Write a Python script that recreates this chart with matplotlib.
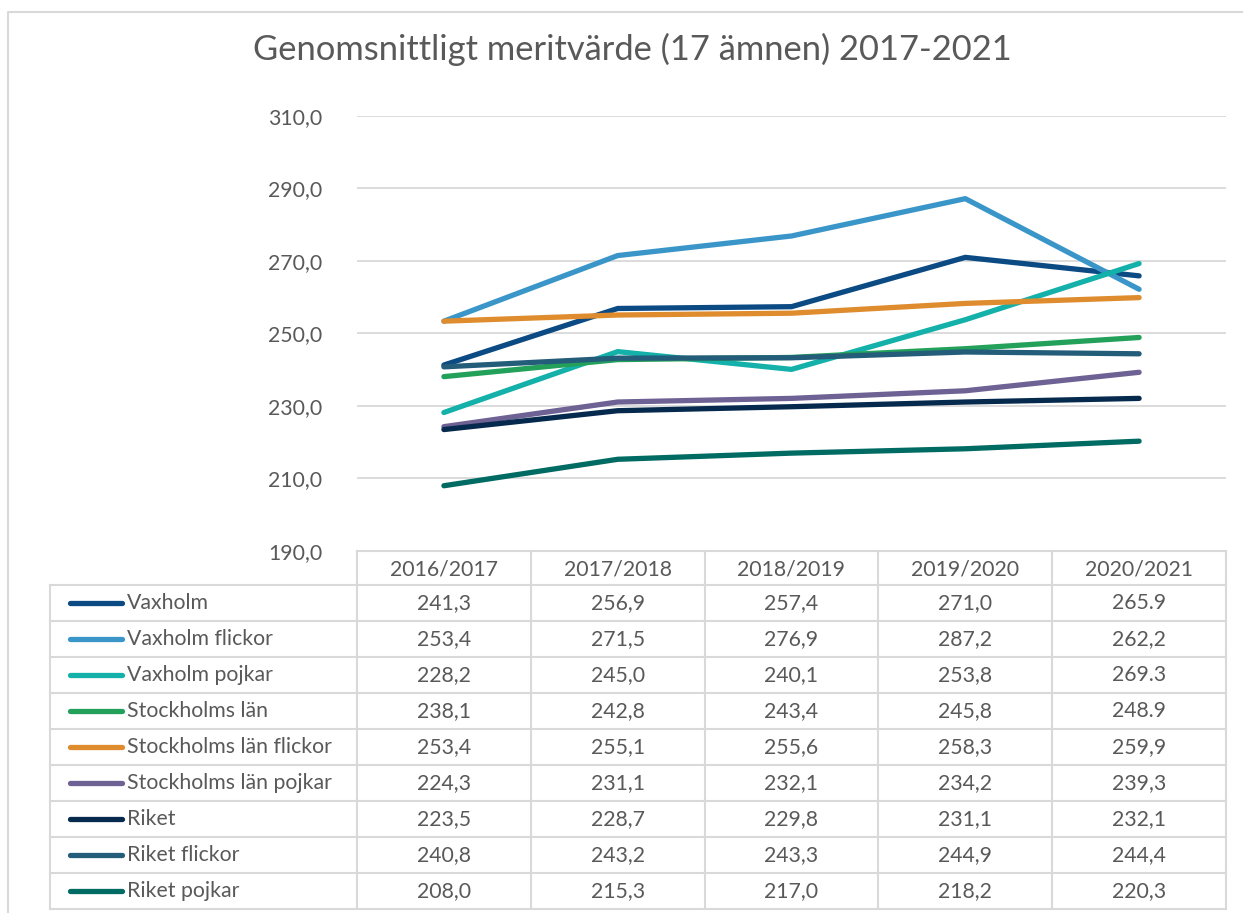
import matplotlib.pyplot as plt
import numpy as np

plt.rcParams["font.family"] = ["Lato", "DejaVu Sans"]

YEARS = ["2016/2017", "2017/2018", "2018/2019", "2019/2020", "2020/2021"]
SERIES = [
    "Vaxholm",
    "Vaxholm flickor",
    "Vaxholm pojkar",
    "Stockholms län",
    "Stockholms län flickor",
    "Stockholms län pojkar",
    "Riket",
    "Riket flickor",
    "Riket pojkar",
]
VAXHOLM = [241.3, 256.9, 257.4, 271.0, 265.9]
VAXHOLM_FLICKOR = [253.4, 271.5, 276.9, 287.2, 262.2]
VAXHOLM_POJKAR = [228.2, 245.0, 240.1, 253.8, 269.3]
STHLM = [238.1, 242.8, 243.4, 245.8, 248.9]
STHLM_FLICKOR = [253.4, 255.1, 255.6, 258.3, 259.9]
STHLM_POJKAR = [224.3, 231.1, 232.1, 234.2, 239.3]
RIKET = [223.5, 228.7, 229.8, 231.1, 232.1]
RIKET_FLICKOR = [240.8, 243.2, 243.3, 244.9, 244.4]
RIKET_POJKAR = [208.0, 215.3, 217.0, 218.2, 220.3]
VALUES = [VAXHOLM, VAXHOLM_FLICKOR, VAXHOLM_POJKAR, STHLM, STHLM_FLICKOR,
          STHLM_POJKAR, RIKET, RIKET_FLICKOR, RIKET_POJKAR]
# cells that the source table prints with a dot instead of a comma
DOT_CELLS = {(0, 4), (2, 4), (3, 4)}
Y_TICKS = [190, 210, 230, 250, 270, 290, 310]

COLORS = ["#0b4a83", "#3a96c8", "#13b1a9", "#23a05a", "#df8c2e",
          "#6e6194", "#062a4e", "#235d79", "#006b63"]
TEXT = "#595959"
GRID = "#d9d9d9"
FS = 15.3

W, H = 1243, 913
fig = plt.figure(figsize=(W / 100, H / 100), dpi=100)

# pixel layout
plot_l, plot_r, plot_t, plot_b = 357, 1226, 116, 551
head_h, row_h, leg_l = 34, 36, 50

ax = fig.add_axes([plot_l / W, 1 - plot_b / H, (plot_r - plot_l) / W,
                   (plot_b - plot_t) / H])
x = np.arange(len(YEARS))
for vals, color in zip(VALUES, COLORS):
    ax.plot(x, vals, color=color, lw=3.8, solid_capstyle="round",
            solid_joinstyle="round", zorder=3)
ax.set_xlim(-0.5, len(YEARS) - 0.5)
ax.set_ylim(Y_TICKS[0], Y_TICKS[-1])
ax.set_yticks(Y_TICKS)
ax.set_yticklabels([f"{v:.1f}".replace(".", ",") for v in Y_TICKS])
ax.set_xticks([])
ax.tick_params(axis="y", length=0, pad=25, labelsize=FS, labelcolor=TEXT)
ax.grid(axis="y", color=GRID, lw=1.3)
for s in ax.spines.values():
    s.set_visible(False)

# overlay in pixel coordinates for the frame and data table
ov = fig.add_axes([0, 0, 1, 1], facecolor="none")
ov.set_xlim(0, W)
ov.set_ylim(H, 0)
ov.axis("off")
ov.plot([8, 8, W], [H, 12, 12], color=GRID, lw=1.5)

ov.text(632, 49, "Genomsnittligt meritvärde (17 ämnen) 2017-2021",
        ha="center", va="center", fontsize=24.8, color=TEXT)

col_w = (plot_r - plot_l) / len(YEARS)
top = plot_b
rows_top = top + head_h
bottom = rows_top + row_h * len(SERIES)
lkw = dict(color=GRID, lw=1.5, zorder=1)
ov.plot([plot_l, plot_r], [top, top], **lkw)
for i in range(len(SERIES) + 1):
    y = rows_top + i * row_h
    ov.plot([leg_l, plot_r], [y, y], **lkw)
ov.plot([leg_l, leg_l], [rows_top, bottom], **lkw)
for j in range(len(YEARS) + 1):
    xx = plot_l + j * col_w
    ov.plot([xx, xx], [top, bottom], **lkw)

for j, yr in enumerate(YEARS):
    ov.text(plot_l + (j + 0.5) * col_w, top + head_h / 2 + 1, yr,
            ha="center", va="center", fontsize=FS, color=TEXT)

for i, (name, vals, color) in enumerate(zip(SERIES, VALUES, COLORS)):
    yc = rows_top + (i + 0.5) * row_h
    ov.plot([70, 122], [yc, yc], color=color, lw=3.8, solid_capstyle="round")
    ov.text(127, yc, name, ha="left", va="center", fontsize=FS, color=TEXT)
    for j, v in enumerate(vals):
        label = f"{v:.1f}"
        if (i, j) not in DOT_CELLS:
            label = label.replace(".", ",")
        ov.text(plot_l + (j + 0.5) * col_w, yc, label, ha="center",
                va="center", fontsize=FS, color=TEXT)

fig.savefig("out.png", dpi=100, facecolor="white")
